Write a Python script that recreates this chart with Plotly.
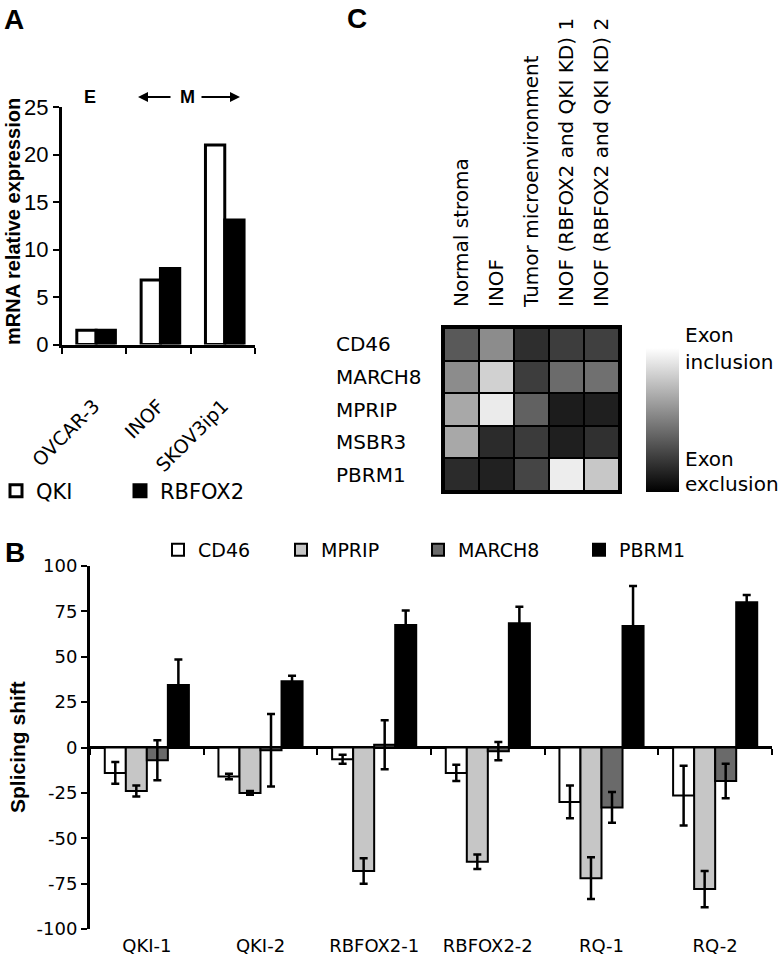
import plotly.graph_objects as go

W, H = 780, 959
def px(x): return x / W
def py(y): return 1 - y / H

# ---------------- data ----------------
a_cells = ["OVCAR-3", "INOF", "SKOV3ip1"]
a_qki = [1.5, 6.8, 21.0]
a_rbfox2 = [1.5, 8.0, 13.1]

c_genes = ["CD46", "MARCH8", "MPRIP", "MSBR3", "PBRM1"]
c_conditions = ["Normal stroma", "INOF", "Tumor microenvironment",
                "INOF (RBFOX2 and QKI KD) 1", "INOF (RBFOX2 and QKI KD) 2"]
# relative exon inclusion (0 = exclusion, 1 = inclusion)
c_cd46 = [0.35, 0.55, 0.18, 0.24, 0.25]
c_march8 = [0.55, 0.82, 0.24, 0.42, 0.44]
c_mprip = [0.66, 0.92, 0.38, 0.11, 0.12]
c_msbr3 = [0.66, 0.17, 0.23, 0.12, 0.19]
c_pbrm1 = [0.17, 0.13, 0.27, 0.93, 0.78]

b_groups = ["QKI-1", "QKI-2", "RBFOX2-1", "RBFOX2-2", "RQ-1", "RQ-2"]
b_cd46 = [-14, -16, -6.5, -14, -30, -26.5]
b_cd46_err = [6, 1.5, 2.5, 4.5, 9, 16.5]
b_mprip = [-24, -25, -68, -63, -72, -78]
b_mprip_err = [3, 1, 7, 4, 11.5, 10]
b_march8 = [-7, -1.5, 1.5, -2, -33, -18.5]
b_march8_err = [11, 20, 13.5, 5, 8.5, 9.5]
b_pbrm1 = [34.5, 36.5, 67.5, 68.5, 67, 80]
b_pbrm1_err = [14, 3, 8, 9, 22, 4]
b_yticks = [-100, -75, -50, -25, 0, 25, 50, 75, 100]
b_yticktext = ["-100", "-75", "-50", "-25", "0", "25", "50", "75", "100"]

F = "DejaVu Sans"
FA = "Liberation Sans"

fig = go.Figure()

# ---------------- panel A ----------------
fig.add_trace(go.Bar(x=a_cells, y=a_qki, name="QKI", xaxis="x", yaxis="y",
                     width=0.3, offset=-0.27,
                     marker=dict(color="white", line=dict(color="black", width=3)),
                     legend="legend"))
fig.add_trace(go.Bar(x=a_cells, y=a_rbfox2, name="RBFOX2", xaxis="x", yaxis="y",
                     width=0.3, offset=0.03,
                     marker=dict(color="black", line=dict(color="black", width=3)),
                     legend="legend2"))

# ---------------- panel C ----------------
fig.add_trace(go.Heatmap(
    z=[c_cd46, c_march8, c_mprip, c_msbr3, c_pbrm1],
    x=c_conditions, y=c_genes, xaxis="x2", yaxis="y2",
    zmin=0, zmax=1, xgap=2, ygap=2,
    colorscale=[[0, "black"], [1, "white"]],
    showscale=True,
    colorbar=dict(x=px(646), xanchor="left", y=py(420), yanchor="middle",
                  lenmode="pixels", len=144, thickness=33, outlinewidth=0,
                  xpad=0, ypad=0, showticklabels=False, ticks=""),
    hoverinfo="skip"))

# ---------------- panel B ----------------
b_series = [("CD46", b_cd46, b_cd46_err, "white", "legend3"),
            ("MPRIP", b_mprip, b_mprip_err, "#c6c6c6", "legend4"),
            ("MARCH8", b_march8, b_march8_err, "#6a6a6a", "legend5"),
            ("PBRM1", b_pbrm1, b_pbrm1_err, "black", "legend6")]
for name, vals, errs, col, lg in b_series:
    fig.add_trace(go.Bar(x=b_groups, y=vals, name=name, xaxis="x3", yaxis="y3",
                         marker=dict(color=col, line=dict(color="black", width=2)),
                         error_y=dict(type="data", array=errs, color="black",
                                      thickness=2.5, width=4),
                         legend=lg))

axis_common = dict(showgrid=False, zeroline=False, linecolor="black", automargin=False)
leg = lambda x, y, size: dict(x=px(x), y=py(y), xanchor="left", yanchor="middle",
                              orientation="h", font=dict(family=F, size=size),
                              bgcolor="rgba(0,0,0,0)")

fig.update_layout(
    width=W, height=H, autosize=False,
    margin=dict(l=0, r=0, t=0, b=0, autoexpand=False),
    paper_bgcolor="white", plot_bgcolor="white",
    barmode="group", bargap=0.26, bargroupgap=0,
    font=dict(family=F, color="black"),
    # A
    xaxis=dict(domain=[px(62), px(255)], anchor="y", type="category",
               categoryorder="array", categoryarray=a_cells,
               showline=True, linewidth=3, ticks="outside", tickson="boundaries",
               ticklen=6, tickwidth=2, tickcolor="black", tickangle=-45, ticklabelstandoff=40,
               tickfont=dict(family=F, size=19), **axis_common),
    yaxis=dict(domain=[py(344.5), py(107)], anchor="x", range=[0, 25], dtick=5,
               showline=True, linewidth=3, ticks="outside", ticklen=6, tickwidth=2,
               tickcolor="black", tickfont=dict(family=FA, size=22), **axis_common),
    # C
    xaxis2=dict(domain=[px(444), px(619)], anchor="y2", side="top",
                showline=True, mirror=True, linewidth=3, ticks="",
                tickangle=-90, ticklabelstandoff=14,
                tickfont=dict(family=F, size=20), **axis_common),
    yaxis2=dict(domain=[py(491), py(328)], anchor="x2", autorange="reversed",
                showline=True, mirror=True, linewidth=3, ticks="",
                showticklabels=False, **axis_common),
    # B
    xaxis3=dict(domain=[px(90), px(772)], anchor="y3", type="category",
                categoryorder="array", categoryarray=b_groups,
                showline=False, ticks="", tickfont=dict(family=F, size=18),
                ticklabelstandoff=4,
                showgrid=False, zeroline=False, automargin=False),
    yaxis3=dict(domain=[py(929), py(566)], anchor="x3", range=[-100, 100],
                tickvals=b_yticks, ticktext=b_yticktext,
                showline=True, linewidth=3, linecolor="black",
                ticks="outside", ticklen=6, tickwidth=2, tickcolor="black",
                tickfont=dict(family=F, size=18), automargin=False,
                showgrid=False, zeroline=True, zerolinewidth=3, zerolinecolor="black"),
    xaxis4=dict(domain=[px(90), px(772)], anchor="free", overlaying="x3",
                position=py(748), range=[-0.5, 5.5],
                tickvals=[-0.5, 0.5, 1.5, 2.5, 3.5, 4.5, 5.5],
                ticks="outside", ticklen=6, tickwidth=2, tickcolor="black",
                showticklabels=False, showline=False, showgrid=False, zeroline=False,
                automargin=False),
    # legends
    legend=leg(-4, 491, 21),
    legend2=leg(120, 491, 21),
    legend3=leg(158, 550, 19),
    legend4=leg(281, 550, 19),
    legend5=leg(418, 550, 19),
    legend6=leg(579, 550, 19),
)

# invisible trace so that the zero-line tick axis is drawn
fig.add_trace(go.Scatter(x=[0], y=[0], xaxis="x4", yaxis="y3", mode="markers",
                         marker=dict(opacity=0), showlegend=False, hoverinfo="skip"))

# black backdrop for heatmap grid lines
fig.add_shape(type="rect", xref="x2 domain", yref="y2 domain", x0=0, x1=1, y0=0, y1=1,
              fillcolor="black", line=dict(width=0), layer="below")

ann = []
def text(x, y, s, size, bold=False, family=FA, angle=0, xanchor="center"):
    ann.append(dict(x=px(x), y=py(y), xref="paper", yref="paper", text=("<b>%s</b>" % s) if bold else s,
                    showarrow=False, textangle=angle, xanchor=xanchor, yanchor="middle",
                    font=dict(family=family, size=size, color="black")))

text(14, 20, "A", 28, True)
text(15, 552, "B", 28, True)
text(357, 19, "C", 28, True)
text(13, 222, "mRNA relative expression", 20, True, angle=-90)
text(17, 747, "Splicing shift", 21, True, angle=-90)
text(90, 97, "E", 18, True)
text(187, 97, "M", 18, True)
# colour bar labels
text(683, 335, "Exon", 20, family=F, xanchor="left")
text(683, 362, "inclusion", 20, family=F, xanchor="left")
text(683, 459, "Exon", 20, family=F, xanchor="left")
text(683, 484, "exclusion", 20, family=F, xanchor="left")
# arrows around M
ann.append(dict(x=px(138), y=py(97), xref="paper", yref="paper", ax=34, ay=0,
                showarrow=True, arrowhead=2, arrowsize=1, arrowwidth=2, arrowcolor="black", text=""))
ann.append(dict(x=px(240), y=py(97), xref="paper", yref="paper", ax=-40, ay=0,
                showarrow=True, arrowhead=2, arrowsize=1, arrowwidth=2, arrowcolor="black", text=""))
# heatmap row labels
for g in c_genes:
    ann.append(dict(x=px(334), y=g, xref="paper", yref="y2", text=g, showarrow=False,
                    xanchor="left", yanchor="middle", font=dict(family=F, size=20, color="black")))

fig.update_layout(annotations=ann)
# remove the browser's default 8px body margin so the 780x959 figure fills the window
fig.write_html("out.html", config={"displayModeBar": False},
               post_script="document.body.style.margin='0';")
